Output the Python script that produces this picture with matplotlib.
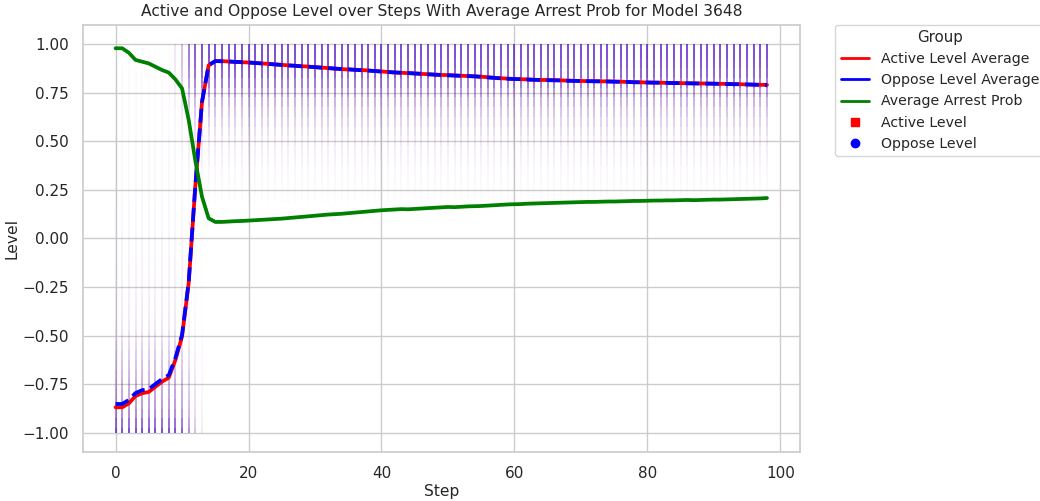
import numpy as np
import matplotlib
matplotlib.use("Agg")
import matplotlib.pyplot as plt
from matplotlib.lines import Line2D
import seaborn as sns

# averages per step
steps = list(range(99))

active_avg = [-0.868, -0.868, -0.848, -0.810, -0.796, -0.789, -0.762, -0.736, -0.716, -0.625,
              -0.505, -0.230, 0.270, 0.700, 0.890, 0.912, 0.912, 0.910, 0.908, 0.906,
              0.905, 0.903, 0.900, 0.898, 0.895, 0.893, 0.890, 0.888, 0.886, 0.884,
              0.881, 0.879, 0.876, 0.873, 0.871, 0.869, 0.868, 0.866, 0.864, 0.861,
              0.859, 0.856, 0.853, 0.852, 0.850, 0.849, 0.846, 0.845, 0.843, 0.841,
              0.840, 0.838, 0.837, 0.835, 0.833, 0.832, 0.829, 0.826, 0.824, 0.822,
              0.820, 0.819, 0.818, 0.816, 0.815, 0.815, 0.814, 0.813, 0.812, 0.811,
              0.810, 0.809, 0.809, 0.808, 0.808, 0.807, 0.806, 0.805, 0.804, 0.803,
              0.802, 0.802, 0.801, 0.800, 0.800, 0.799, 0.798, 0.798, 0.797, 0.797,
              0.796, 0.795, 0.795, 0.794, 0.793, 0.792, 0.791, 0.790, 0.790]

oppose_avg = [-0.851, -0.851, -0.830, -0.795, -0.780, -0.775, -0.748, -0.723, -0.703, -0.615,
              -0.495, -0.225, 0.272, 0.702, 0.891, 0.912, 0.911, 0.910, 0.908, 0.907,
              0.905, 0.902, 0.900, 0.897, 0.895, 0.892, 0.890, 0.888, 0.885, 0.883,
              0.881, 0.878, 0.876, 0.874, 0.871, 0.870, 0.867, 0.865, 0.863, 0.861,
              0.858, 0.856, 0.854, 0.852, 0.851, 0.848, 0.847, 0.844, 0.842, 0.841,
              0.839, 0.838, 0.836, 0.835, 0.834, 0.831, 0.828, 0.826, 0.823, 0.821,
              0.820, 0.819, 0.817, 0.816, 0.815, 0.814, 0.813, 0.813, 0.811, 0.810,
              0.810, 0.809, 0.808, 0.808, 0.807, 0.806, 0.806, 0.805, 0.803, 0.803,
              0.802, 0.801, 0.801, 0.800, 0.799, 0.799, 0.798, 0.797, 0.797, 0.796,
              0.796, 0.795, 0.794, 0.793, 0.793, 0.792, 0.791, 0.790, 0.789]

arrest_prob = [0.978, 0.978, 0.955, 0.918, 0.909, 0.900, 0.883, 0.866, 0.853, 0.818,
               0.772, 0.610, 0.400, 0.215, 0.104, 0.085, 0.085, 0.087, 0.089, 0.090,
               0.092, 0.094, 0.096, 0.098, 0.100, 0.102, 0.105, 0.108, 0.111, 0.114,
               0.117, 0.120, 0.123, 0.125, 0.127, 0.130, 0.133, 0.136, 0.139, 0.142,
               0.145, 0.147, 0.149, 0.151, 0.150, 0.152, 0.154, 0.156, 0.158, 0.160,
               0.162, 0.161, 0.163, 0.165, 0.166, 0.167, 0.169, 0.171, 0.173, 0.175,
               0.176, 0.177, 0.179, 0.180, 0.181, 0.182, 0.183, 0.184, 0.185, 0.186,
               0.187, 0.188, 0.188, 0.189, 0.190, 0.190, 0.191, 0.192, 0.193, 0.193,
               0.194, 0.195, 0.195, 0.196, 0.196, 0.197, 0.198, 0.197, 0.198, 0.199,
               0.200, 0.200, 0.201, 0.202, 0.203, 0.204, 0.205, 0.206, 0.208]

# agent level cloud: density of agents per level bin (-1.00 .. 1.00 by 0.05)
level_bins = np.round(np.arange(-1.0, 1.0001, 0.05), 2)
low_profile = [1.00, 0.80, 0.60, 0.50, 0.45, 0.40, 0.35, 0.30, 0.25, 0.20,
               0.15, 0.12, 0.10, 0.09, 0.08, 0.07, 0.06, 0.06, 0.05, 0.05,
               0.05, 0.04, 0.04, 0.04, 0.03, 0.03, 0.03, 0.03, 0.03, 0.03,
               0.03, 0.02, 0.02, 0.02, 0.02, 0.02, 0.02, 0.02, 0.01, 0.01, 0.01]
high_profile = [0.00, 0.00, 0.00, 0.00, 0.00, 0.00, 0.00, 0.00, 0.00, 0.00,
                0.00, 0.00, 0.00, 0.00, 0.00, 0.00, 0.00, 0.00, 0.00, 0.00,
                0.00, 0.00, 0.00, 0.00, 0.01, 0.02, 0.03, 0.04, 0.06, 0.08,
                0.11, 0.15, 0.21, 0.28, 0.38, 0.52, 0.70, 0.85, 0.95, 1.00, 1.00]
# share of agents in the low / high group at each step
low_share = [1.0] * 9 + [1.0, 0.9, 0.6, 0.3, 0.1] + [0.0] * 85
high_share = [0.0] * 9 + [0.1, 0.3, 0.7, 0.9, 1.0] + [1.0] * 85

sns.set_theme(style="whitegrid")
plt.rcParams['font.family'] = ['DejaVu Sans']

fig = plt.figure(figsize=(10.4, 5.01), dpi=100)
ax = fig.add_axes([0.0798, 0.097, 0.689, 0.854])

half = 0.025
for color, base in (("red", 0.4), ("blue", 0.6)):
    x, lo, hi, cols = [], [], [], []
    rgb = matplotlib.colors.to_rgb(color)
    for s in steps:
        for j, lv in enumerate(level_bins):
            d = low_share[s] * low_profile[j] + high_share[s] * high_profile[j]
            if d <= 0:
                continue
            x.append(s)
            lo.append(max(lv - half, -1.0))
            hi.append(min(lv + half, 1.0))
            cols.append((*rgb, min(base * d, 1.0)))
    ax.vlines(x, lo, hi, colors=cols, linewidth=1.2)

ax.plot(steps, active_avg, color="red", linewidth=2.7)
ax.plot(steps, oppose_avg, color="blue", linewidth=2.7, linestyle="--")
ax.plot(steps, arrest_prob, color="green", linewidth=2.7)

ax.set_xlim(-4.9, 102.9)
ax.set_ylim(-1.1, 1.1)
ax.tick_params(labelsize=11, pad=4)
ax.set_xlabel("Step", fontsize=11.2, labelpad=2)
ax.set_ylabel("Level", fontsize=11.2, labelpad=2)
ax.set_title("Active and Oppose Level over Steps With Average Arrest Prob for Model 3648", fontsize=11.2)

handles = [
    Line2D([0], [0], color="red", lw=2, label="Active Level Average"),
    Line2D([0], [0], color="blue", lw=2, label="Oppose Level Average"),
    Line2D([0], [0], color="green", lw=2, label="Average Arrest Prob"),
    Line2D([0], [0], color="red", marker="s", linestyle="", markersize=6, label="Active Level"),
    Line2D([0], [0], color="blue", marker="o", linestyle="", markersize=6, label="Oppose Level"),
]
ax.legend(handles=handles, title="Group", bbox_to_anchor=(1.05, 1), loc="upper left",
          borderaxespad=0., fontsize=10.2, title_fontsize=10.8)

fig.savefig("out.png", dpi=100)
